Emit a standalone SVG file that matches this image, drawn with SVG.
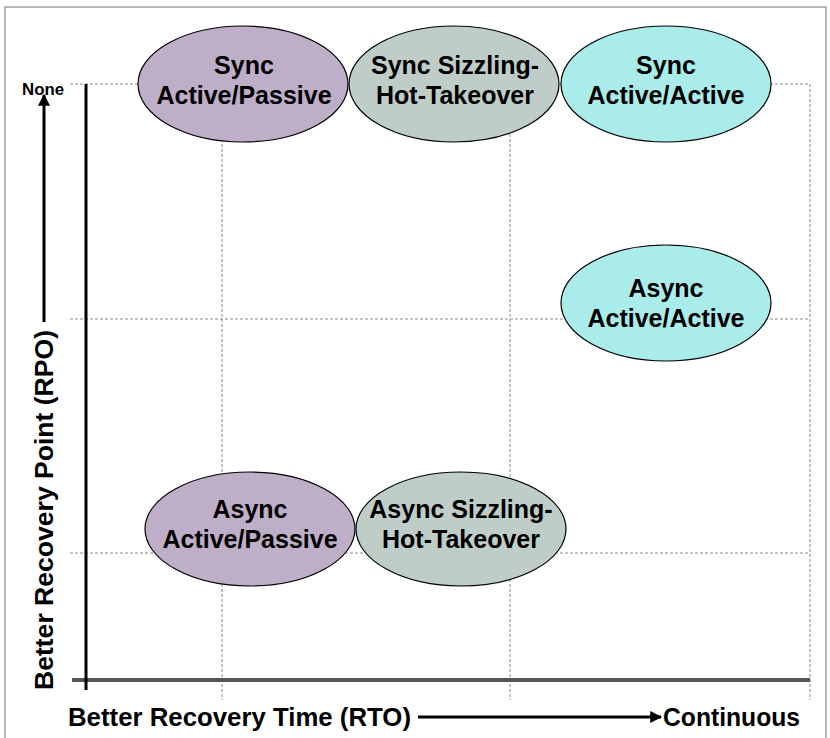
<svg xmlns="http://www.w3.org/2000/svg" width="830" height="738" viewBox="0 0 830 738">
<style>
.grid{stroke:#8a8a8a;stroke-width:1;stroke-dasharray:3,2;fill:none}
.node ellipse{stroke:#000;stroke-width:1.2}
.lbl{font-family:"Liberation Sans",Arial,sans-serif;font-weight:bold;font-size:25px;text-anchor:middle;fill:#000}
.ax{font-family:"Liberation Sans",Arial,sans-serif;font-weight:bold;fill:#000}
.purple{fill:#bfaec8}
.gray{fill:#bfcdc8}
.cyan{fill:#aaecea}
</style>
<defs>
<marker id="ah" viewBox="0 0 10 10" refX="9" refY="5" markerWidth="4" markerHeight="4" orient="auto" markerUnits="strokeWidth">
<path d="M0,0 L10,5 L0,10 z" fill="#000"/>
</marker>
</defs>
<rect x="0" y="0" width="830" height="738" fill="#fff"/>
<rect x="5" y="7" width="821" height="745" fill="none" stroke="#a0a0a0" stroke-width="1.5"/>
<g id="grid">
<line class="grid" x1="70" y1="84" x2="810" y2="84"/>
<line class="grid" x1="70" y1="319" x2="810" y2="319"/>
<line class="grid" x1="70" y1="553" x2="810" y2="553"/>
<line class="grid" x1="222" y1="84" x2="222" y2="700"/>
<line class="grid" x1="510" y1="84" x2="510" y2="700"/>
<line class="grid" x1="810" y1="84" x2="810" y2="700"/>
</g>
<g id="axes">
<line x1="72" y1="680" x2="810" y2="680" stroke="#555" stroke-width="4"/>
<line x1="86" y1="84" x2="86" y2="690" stroke="#000" stroke-width="3"/>
</g>
<g id="connectors">
<line x1="44" y1="322" x2="44" y2="95" stroke="#000" stroke-width="3" marker-end="url(#ah)"/>
<line x1="418" y1="717" x2="661" y2="717" stroke="#000" stroke-width="3" marker-end="url(#ah)"/>
</g>
<text class="ax" x="22" y="95" font-size="17" textLength="42" lengthAdjust="spacingAndGlyphs">None</text>
<text class="ax" transform="translate(53,690) rotate(-90)" x="0" y="0" font-size="26" textLength="360" lengthAdjust="spacingAndGlyphs">Better Recovery Point (RPO)</text>
<text class="ax" x="68" y="726" font-size="25" textLength="343" lengthAdjust="spacingAndGlyphs">Better Recovery Time (RTO)</text>
<text class="ax" x="663" y="726" font-size="25" textLength="137" lengthAdjust="spacingAndGlyphs">Continuous</text>
<g id="sync-ap" class="node">
<ellipse class="purple" cx="243" cy="84" rx="105" ry="58"/>
<text class="lbl" x="244" y="74">Sync</text>
<text class="lbl" x="244" y="104">Active/Passive</text>
</g>
<g id="sync-sht" class="node">
<ellipse class="gray" cx="454" cy="84" rx="105" ry="58"/>
<text class="lbl" x="455" y="74">Sync Sizzling-</text>
<text class="lbl" x="455" y="104">Hot-Takeover</text>
</g>
<g id="sync-aa" class="node">
<ellipse class="cyan" cx="666" cy="84" rx="105" ry="58"/>
<text class="lbl" x="666" y="74">Sync</text>
<text class="lbl" x="666" y="104">Active/Active</text>
</g>
<g id="async-aa" class="node">
<ellipse class="cyan" cx="666" cy="303" rx="105" ry="58"/>
<text class="lbl" x="666" y="297">Async</text>
<text class="lbl" x="666" y="327">Active/Active</text>
</g>
<g id="async-ap" class="node">
<ellipse class="purple" cx="250" cy="529" rx="105" ry="57"/>
<text class="lbl" x="250" y="518">Async</text>
<text class="lbl" x="250" y="548">Active/Passive</text>
</g>
<g id="async-sht" class="node">
<ellipse class="gray" cx="461" cy="529" rx="105" ry="57"/>
<text class="lbl" x="461" y="518">Async Sizzling-</text>
<text class="lbl" x="461" y="548">Hot-Takeover</text>
</g>
</svg>
